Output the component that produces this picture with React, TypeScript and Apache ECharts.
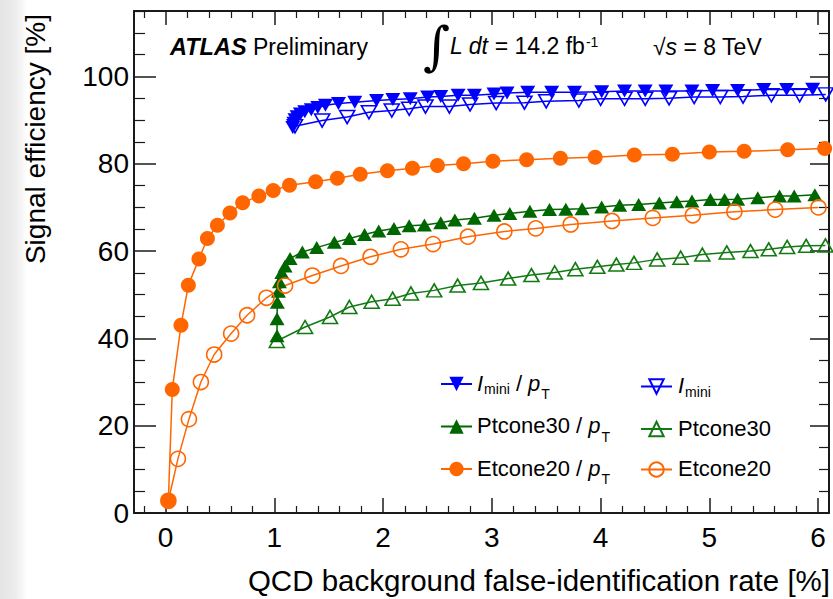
import React, { useEffect, useRef } from "react";
import * as echarts from "echarts";

const FONT = "'Liberation Sans', Arial, Helvetica, sans-serif";

// Axis ranges and tick labels
const xTickValues = [0, 1, 2, 3, 4, 5, 6];
const yTickValues = [0, 20, 40, 60, 80, 100];
const X_MIN = -0.29;
const X_MAX = 6.1;
const Y_MIN = 0;
const Y_MAX = 115;

// Series data: [false-identification rate %, signal efficiency %]
const iminiPtData: [number, number][] = [
  [1.17, 88.3], [1.18, 89.3], [1.19, 90.1], [1.21, 90.8], [1.24, 91.4], [1.28, 91.9],
  [1.34, 92.4], [1.4, 92.9], [1.47, 93.4], [1.59, 93.8], [1.74, 94.1], [1.94, 94.5],
  [2.09, 94.7], [2.25, 94.9], [2.41, 95.3], [2.53, 95.4], [2.69, 95.7], [2.84, 95.7],
  [3.02, 96.0], [3.14, 96.2], [3.33, 96.4], [3.55, 96.4], [3.76, 96.4], [4.01, 96.5],
  [4.22, 96.7], [4.41, 96.7], [4.6, 96.7], [4.84, 96.7], [5.03, 96.8], [5.26, 96.8],
  [5.5, 97.0], [5.71, 97.0], [5.95, 97.1],
];
const iminiData: [number, number][] = [
  [1.19, 88.6], [1.44, 89.9], [1.67, 90.7], [1.87, 91.8], [2.08, 92.2], [2.24, 92.6],
  [2.39, 93.1], [2.61, 93.1], [2.8, 93.6], [3.04, 93.9], [3.3, 94.0], [3.5, 94.3],
  [3.8, 94.5], [4.0, 94.9], [4.22, 94.9], [4.41, 94.9], [4.63, 95.0], [4.86, 95.3],
  [5.1, 95.3], [5.31, 95.4], [5.57, 95.7], [5.83, 95.7], [6.07, 95.9],
];
const ptcone30PtData: [number, number][] = [
  [1.025, 40.6], [1.025, 44.5], [1.028, 48.3], [1.038, 50.8], [1.047, 53.0], [1.069, 55.1],
  [1.099, 56.6], [1.145, 58.3], [1.258, 59.8], [1.39, 60.8], [1.552, 62.0], [1.69, 62.9],
  [1.83, 63.8], [1.96, 64.6], [2.1, 65.2], [2.24, 65.8], [2.38, 66.0], [2.53, 66.5],
  [2.66, 67.1], [2.84, 67.5], [3.02, 68.2], [3.165, 68.6], [3.35, 69.1], [3.53, 69.5],
  [3.68, 69.6], [3.83, 69.7], [4.01, 70.1], [4.175, 70.5], [4.35, 70.7], [4.54, 71.0],
  [4.7, 71.3], [4.84, 71.5], [5.01, 71.8], [5.14, 71.8], [5.26, 71.9], [5.445, 72.2],
  [5.645, 72.6], [5.78, 72.6], [5.97, 72.9],
];
const ptcone30Data: [number, number][] = [
  [1.023, 39.4], [1.283, 42.6], [1.512, 44.9], [1.69, 47.2], [1.895, 48.4], [2.088, 49.1],
  [2.256, 50.3], [2.47, 51.0], [2.685, 52.1], [2.9, 52.7], [3.15, 53.7], [3.364, 54.5],
  [3.578, 55.1], [3.768, 55.85], [3.97, 56.4], [4.145, 56.9], [4.307, 57.3], [4.52, 58.1],
  [4.736, 58.5], [4.935, 59.2], [5.16, 59.7], [5.378, 60.0], [5.546, 60.4], [5.715, 60.95],
  [5.89, 61.2], [6.067, 61.3],
];
const etcone20PtData: [number, number][] = [
  [0.026, 2.8], [0.062, 28.3], [0.142, 43.0], [0.21, 52.2], [0.307, 58.2], [0.385, 62.9],
  [0.477, 65.9], [0.592, 68.7], [0.709, 71.1], [0.858, 72.6], [0.99, 73.9], [1.14, 75.1],
  [1.38, 75.9], [1.58, 76.7], [1.79, 77.6], [2.04, 78.4], [2.27, 79.0], [2.5, 79.6],
  [2.74, 80.0], [3.01, 80.6], [3.32, 80.9], [3.63, 81.25], [3.95, 81.5], [4.31, 82.0],
  [4.66, 82.2], [5.0, 82.7], [5.32, 82.85], [5.72, 83.2], [6.06, 83.5],
];
const etcone20Data: [number, number][] = [
  [0.026, 2.8], [0.114, 12.4], [0.215, 21.5], [0.325, 30.0], [0.447, 36.3], [0.603, 41.1],
  [0.75, 45.3], [0.928, 49.3], [1.099, 52.1], [1.35, 54.4], [1.613, 56.6], [1.885, 58.7],
  [2.164, 60.4], [2.46, 61.6], [2.78, 63.3], [3.115, 64.5], [3.404, 65.2], [3.725, 66.1],
  [4.105, 66.9], [4.48, 67.6], [4.848, 68.2], [5.23, 69.0], [5.605, 69.5], [6.003, 70.0],
];

const BLUE = "#0000ff";
const GREEN = "#006600";
const GREEN_OPEN = "#137a13";
const ORANGE = "#ff6600";

const seriesDefs = [
  { name: "Imini", data: iminiData, symbol: "triangle", rotate: 180, color: BLUE, filled: false, size: [15, 13] },
  { name: "Imini/pT", data: iminiPtData, symbol: "triangle", rotate: 180, color: BLUE, filled: true, size: [15, 13] },
  { name: "Ptcone30", data: ptcone30Data, symbol: "triangle", rotate: 0, color: GREEN_OPEN, filled: false, size: [15, 13] },
  { name: "Ptcone30/pT", data: ptcone30PtData, symbol: "triangle", rotate: 0, color: GREEN, filled: true, size: [15, 13] },
  { name: "Etcone20", data: etcone20Data, symbol: "circle", rotate: 0, color: ORANGE, filled: false, size: 15 },
  { name: "Etcone20/pT", data: etcone20PtData, symbol: "circle", rotate: 0, color: ORANGE, filled: true, size: 15 },
];

const legendLabels: Record<string, string> = {
  "Imini/pT": "{i|I}{s1|mini}{n| / }{i|p}{s2|T}",
  "Ptcone30/pT": "{n|Ptcone30 / }{i|p}{s2|T}",
  "Etcone20/pT": "{n|Etcone20 / }{i|p}{s2|T}",
  Imini: "{i|I}{s1|mini}",
  Ptcone30: "{n|Ptcone30}",
  Etcone20: "{n|Etcone20}",
};

function minorValues(min: number, max: number, step: number, majors: number[]) {
  const out: number[] = [];
  const start = Math.ceil(min / step - 1e-9);
  const end = Math.floor(max / step + 1e-9);
  for (let k = start; k <= end; k++) {
    const v = Math.round(k * step * 1000) / 1000;
    if (!majors.some((m) => Math.abs(m - v) < 1e-6)) out.push(v);
  }
  return out;
}

const legendRich = {
  n: { fontSize: 22, fontFamily: FONT, color: "#000", lineHeight: 24, verticalAlign: "top" },
  i: { fontSize: 22, fontFamily: FONT, fontStyle: "italic", color: "#000", lineHeight: 24, verticalAlign: "top" },
  s1: { fontSize: 14, fontFamily: FONT, color: "#000", lineHeight: 14, verticalAlign: "top", padding: [10, 0, 0, 1] },
  s2: { fontSize: 14, fontFamily: FONT, color: "#000", lineHeight: 14, verticalAlign: "top", padding: [15, 0, 0, 1] },
};

export default function App() {
  const ref = useRef<HTMLDivElement>(null);

  useEffect(() => {
    if (!ref.current) return;
    const chart = echarts.init(ref.current, null, { renderer: "svg" });
    const xMinor = minorValues(X_MIN, X_MAX, 0.2, xTickValues);
    const yMinor = minorValues(Y_MIN, Y_MAX, 5, yTickValues);
    const AX = "#1a1a1a";

    const xAxisBase = {
      type: "value",
      min: X_MIN,
      max: X_MAX,
      splitLine: { show: false },
    };
    const yAxisBase = {
      type: "value",
      min: Y_MIN,
      max: Y_MAX,
      splitLine: { show: false },
    };

    const option: any = {
      animation: false,
      backgroundColor: "transparent",
      grid: { left: 134, right: 4, top: 11, bottom: 86, outerBoundsMode: "none", containLabel: false },
      xAxis: [
        {
          ...xAxisBase,
          position: "bottom",
          axisLine: { show: true, onZero: false, lineStyle: { color: AX, width: 2 } },
          axisTick: { show: true, inside: true, length: 15, customValues: xTickValues, lineStyle: { color: AX, width: 1.5 } },
          axisLabel: { show: true, customValues: xTickValues, fontSize: 28, fontFamily: FONT, color: "#000", margin: 10 },
        },
        {
          ...xAxisBase,
          position: "bottom",
          axisLine: { show: false, onZero: false },
          axisTick: { show: true, inside: true, length: 7, customValues: xMinor, lineStyle: { color: AX, width: 1.2 } },
          axisLabel: { show: false },
        },
        {
          ...xAxisBase,
          position: "top",
          axisLine: { show: true, onZero: false, lineStyle: { color: AX, width: 2 } },
          axisTick: { show: true, inside: true, length: 14, customValues: xTickValues, lineStyle: { color: AX, width: 1.5 } },
          axisLabel: { show: false },
        },
        {
          ...xAxisBase,
          position: "top",
          axisLine: { show: false, onZero: false },
          axisTick: { show: true, inside: true, length: 7, customValues: xMinor, lineStyle: { color: AX, width: 1.2 } },
          axisLabel: { show: false },
        },
      ],
      yAxis: [
        {
          ...yAxisBase,
          position: "left",
          axisLine: { show: true, onZero: false, lineStyle: { color: AX, width: 2 } },
          axisTick: { show: true, inside: true, length: 22, customValues: yTickValues, lineStyle: { color: AX, width: 1.5 } },
          axisLabel: { show: true, customValues: yTickValues, fontSize: 28, fontFamily: FONT, color: "#000", margin: 5 },
        },
        {
          ...yAxisBase,
          position: "left",
          axisLine: { show: false, onZero: false },
          axisTick: { show: true, inside: true, length: 11, customValues: yMinor, lineStyle: { color: AX, width: 1.2 } },
          axisLabel: { show: false },
        },
        {
          ...yAxisBase,
          position: "right",
          axisLine: { show: true, onZero: false, lineStyle: { color: AX, width: 2 } },
          axisTick: { show: true, inside: true, length: 19, customValues: yTickValues, lineStyle: { color: AX, width: 1.5 } },
          axisLabel: { show: false },
        },
        {
          ...yAxisBase,
          position: "right",
          axisLine: { show: false, onZero: false },
          axisTick: { show: true, inside: true, length: 10, customValues: yMinor, lineStyle: { color: AX, width: 1.2 } },
          axisLabel: { show: false },
        },
      ],
      legend: [
        {
          data: ["Imini/pT", "Ptcone30/pT", "Etcone20/pT"],
          orient: "vertical",
          left: 435,
          top: 367,
          itemWidth: 31,
          itemHeight: 18,
          itemGap: 13.5,
          selectedMode: false,
          formatter: (name: string) => legendLabels[name] || name,
          textStyle: { fontSize: 22, fontFamily: FONT, color: "#000", padding: [0, 0, 0, 0], rich: legendRich },
        },
        {
          data: ["Imini", "Ptcone30", "Etcone20"],
          orient: "vertical",
          left: 635,
          top: 369.5,
          itemWidth: 31,
          itemHeight: 18,
          itemGap: 18.5,
          selectedMode: false,
          formatter: (name: string) => legendLabels[name] || name,
          textStyle: { fontSize: 22, fontFamily: FONT, color: "#000", padding: [0, 0, 0, 1], rich: legendRich },
        },
      ],
      series: seriesDefs.map((d) => ({
        type: "line",
        name: d.name,
        data: d.data,
        xAxisIndex: 0,
        yAxisIndex: 0,
        symbol: d.symbol,
        symbolRotate: d.rotate,
        symbolSize: d.size,
        showSymbol: true,
        silent: true,
        clip: true,
        lineStyle: { color: d.color, width: 1.5 },
        itemStyle: d.filled
          ? { color: d.color, borderWidth: 0 }
          : { color: "rgba(255,255,255,0)", borderColor: d.color, borderWidth: 1.6 },
      })),
      graphic: [
        {
          type: "text",
          x: 170,
          y: 47,
          style: { text: "ATLAS", font: `italic bold 23.5px ${FONT}`, fill: "#000", verticalAlign: "middle", align: "left" },
        },
        {
          type: "text",
          x: 253,
          y: 47,
          style: { text: "Preliminary", font: `23px ${FONT}`, fill: "#000", verticalAlign: "middle", align: "left" },
        },
        {
          type: "text",
          x: 450,
          y: 46,
          style: { text: "\u222B", font: `52px 'DejaVu Serif', serif`, fill: "#000", verticalAlign: "middle", align: "right" },
        },
        {
          type: "text",
          x: 450,
          y: 47,
          style: {
            text: "{i|L dt}{n| = 14.2 fb}{sup|-1}",
            verticalAlign: "middle",
            align: "left",
            rich: {
              n: { fontSize: 23, fontFamily: FONT, color: "#000", lineHeight: 25, verticalAlign: "top" },
              i: { fontSize: 23, fontFamily: FONT, fontStyle: "italic", color: "#000", lineHeight: 25, verticalAlign: "top" },
              sup: { fontSize: 14, fontFamily: FONT, color: "#000", lineHeight: 14, verticalAlign: "top", padding: [0, 0, 0, 1] },
            },
          },
        },
        {
          type: "text",
          x: 653,
          y: 47,
          style: {
            text: "{n|\u221A}{i|s}{n| = 8 TeV}",
            verticalAlign: "middle",
            align: "left",
            rich: {
              n: { fontSize: 23, fontFamily: FONT, color: "#000", lineHeight: 25 },
              i: { fontSize: 23, fontFamily: FONT, fontStyle: "italic", color: "#000", lineHeight: 25 },
            },
          },
        },
        {
          type: "text",
          x: 830,
          y: 580,
          style: {
            text: "QCD background false-identification rate [%]",
            font: `29.5px ${FONT}`,
            fill: "#000",
            align: "right",
            verticalAlign: "middle",
          },
        },
        {
          type: "text",
          x: 35,
          y: 14,
          rotation: Math.PI / 2,
          style: {
            text: "Signal efficiency [%]",
            font: `28px ${FONT}`,
            fill: "#000",
            align: "right",
            verticalAlign: "middle",
          },
        },
      ],
    };

    chart.setOption(option);
    return () => chart.dispose();
  }, []);

  return (
    <div
      style={{
        position: "fixed",
        left: 0,
        top: 0,
        width: 833,
        height: 599,
        background: "linear-gradient(to right, #e4e4e4 0px, #ececec 14px, #f6f6f6 22px, #ffffff 27px)",
      }}
    >
      <div ref={ref} style={{ position: "absolute", left: 0, top: 0, width: 833, height: 599 }} />
    </div>
  );
}
